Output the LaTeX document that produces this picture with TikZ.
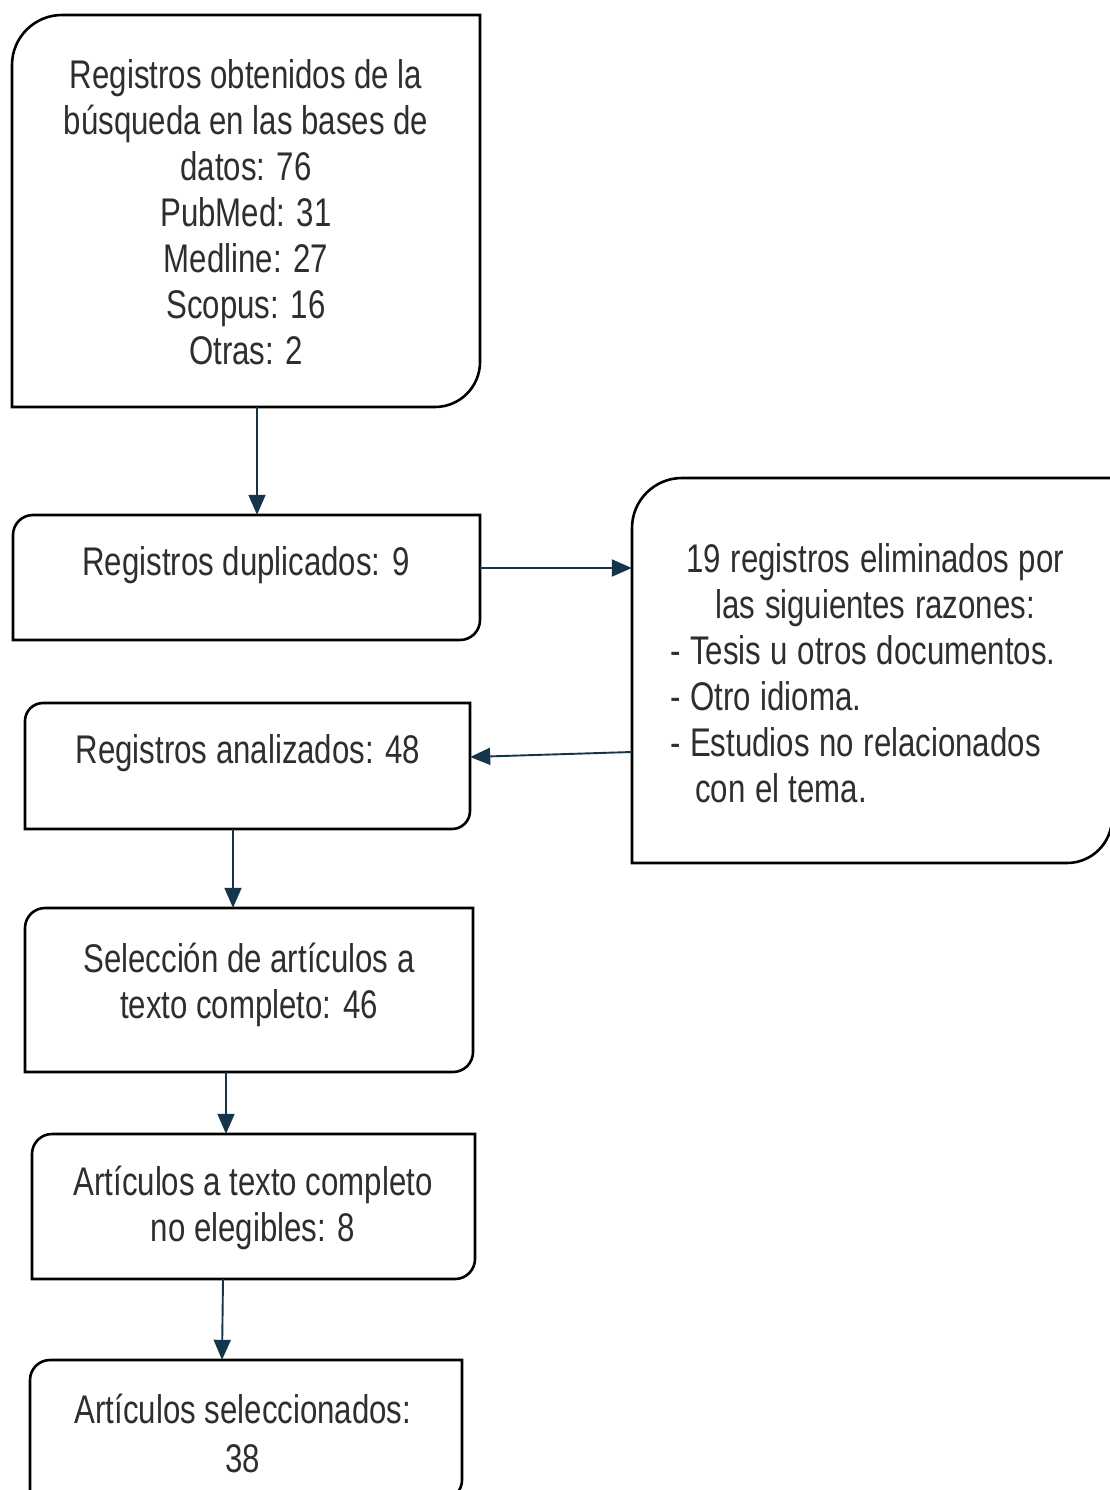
\documentclass[tikz,border=0pt]{standalone}
\usepackage{fontspec}
\setmainfont[FakeStretch=0.78]{Liberation Sans}
\usetikzlibrary{arrows.meta,calc}
\definecolor{txt}{HTML}{2E2E2E}
\definecolor{arrc}{HTML}{15364A}
\tikzset{
  boxline/.style={draw=black,line width=2.6pt},
  arr/.style={draw=arrc,line width=1.9pt,-{Triangle[length=20pt,width=17pt]}},
  lbl/.style={text=txt,font=\fontsize{40}{46}\selectfont,align=center,inner sep=0pt},
}
\newcommand\flowbox[7]{%
  \node[inner sep=0pt,minimum width={(#4-#2)*1pt},minimum height={(#5-#3)*1pt}] (#1) at ({(#2+#4)/2},{-(#3+#5)/2}) {};
  \draw[boxline] (#2,-#5) -- (#2,{-#3-#6}) arc[start angle=180,end angle=90,radius=#6pt] -- (#4,-#3) -- (#4,{-#5+#7}) arc[start angle=0,end angle=-90,radius=#7pt] -- cycle;
}
\begin{document}
\begin{tikzpicture}[x=1pt,y=1pt]
\fill[white] (0,0) rectangle (1110,-1490);
\useasboundingbox (0,0) rectangle (1110,-1490);
\flowbox{b1}{12}{15}{480}{407}{50}{45}
\flowbox{b2}{13}{515}{480}{640}{20}{20}
\flowbox{b3}{632}{478}{1112}{863}{50}{45}
\flowbox{b4}{25}{703}{470}{829}{18}{18}
\flowbox{b5}{25}{908}{473}{1072}{20}{20}
\flowbox{b6}{32}{1134}{475}{1279}{20}{20}
\flowbox{b7}{30}{1360}{462}{1500}{20}{20}

\node[lbl] (t1) at (246,-212) {Registros obtenidos de la\\búsqueda en las bases de\\datos: 76\\PubMed: 31\\Medline: 27\\Scopus: 16\\Otras: 2};
\node[lbl] (t2) at (246,-565) {Registros duplicados: 9};
\node[lbl,align=left,text width=410pt,anchor=west] (t3) at (670,-673) {\spaceskip=0.24em plus 0.05em\relax
\makebox[\linewidth][c]{19 registros eliminados por}\\\makebox[\linewidth][c]{las siguientes razones:}\\- Tesis u otros documentos.\\- Otro idioma.\\- Estudios no relacionados\\\hspace*{25pt}con el tema.};
\node[lbl] (t4) at (248,-753) {Registros analizados: 48};
\node[lbl] (t5) at (249,-985) {Selección de artículos a\\texto completo: 46};
\node[lbl] (t6) at (253,-1208) {Artículos a texto completo\\no elegibles: 8};
\node[lbl,font=\fontsize{40}{49}\selectfont] (t7) at (243,-1433) {Artículos seleccionados:\\38};

\draw[arr] (257,0 |- b1.south) -- (257,0 |- b2.north);
\draw[arr] (b2.east |- 0,-568) -- (b3.west |- 0,-568);
\draw[arr] (b3.west |- 0,-752) -- (b4.east |- 0,-757);
\draw[arr] (233,0 |- b4.south) -- (233,0 |- b5.north);
\draw[arr] (226,0 |- b5.south) -- (226,0 |- b6.north);
\draw[arr] (223,0 |- b6.south) -- (222,0 |- b7.north);
\end{tikzpicture}
\end{document}
